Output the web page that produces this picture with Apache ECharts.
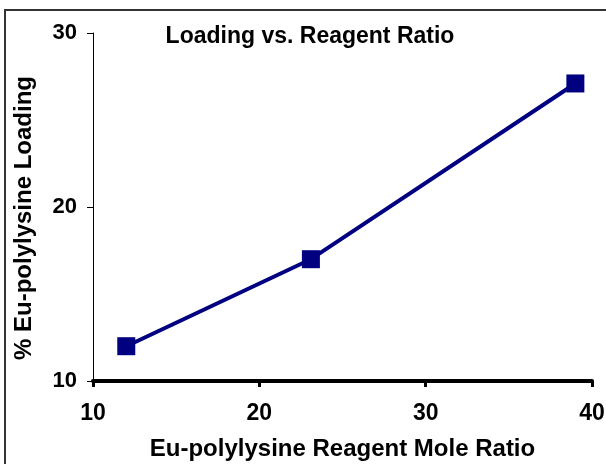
<!DOCTYPE html>
<html>
<head>
<meta charset="utf-8">
<script src="https://cdn.jsdelivr.net/npm/echarts@6/dist/echarts.min.js"></script>
<style>html,body{margin:0;padding:0;background:#fff;}#c{width:606px;height:464px;}</style>
</head>
<body>
<div id="c"></div>
<script>
const titleText = 'Loading vs. Reagent Ratio';
const xName = 'Eu-polylysine Reagent Mole Ratio';
const yName = '% Eu-polylysine Loading';
const moleRatio = [12, 23.1, 39];
const loading = [12, 17, 27.1];
const xTicks = [10, 20, 30, 40];
const yTicks = [10, 20, 30];

const FONT = 'Liberation Sans, Arial, sans-serif';
const chart = echarts.init(document.getElementById('c'));
chart.setOption({
  animation: false,
  backgroundColor: '#fff',
  grid: { left: 93, right: 14, top: 33, bottom: 83, containLabel: false, outerBoundsMode: 'none' },
  graphic: [
    { type: 'rect', shape: { x: 5, y: 10, width: 800, height: 800 }, style: { fill: 'none', stroke: '#333', lineWidth: 2 }, z: -1 },
    { type: 'text', x: 310, y: 37, style: { text: titleText, font: 'bold 23px ' + FONT, fill: '#000', textAlign: 'center', textVerticalAlign: 'middle' } },
    { type: 'text', x: 24, y: 218, rotation: Math.PI / 2, style: { text: yName, font: 'bold 24px ' + FONT, fill: '#000', textAlign: 'center', textVerticalAlign: 'middle' } }
  ],
  xAxis: {
    type: 'value', min: xTicks[0], max: xTicks[xTicks.length - 1], interval: 10,
    name: xName, nameLocation: 'middle', nameGap: 56,
    nameTextStyle: { fontFamily: FONT, fontWeight: 'bold', fontSize: 24, color: '#000' },
    axisLine: { lineStyle: { color: '#000', width: 4 } },
    axisTick: { length: 6, lineStyle: { color: '#000', width: 3 } },
    axisLabel: { fontFamily: FONT, fontWeight: 'bold', fontSize: 23, color: '#000', margin: 21 },
    splitLine: { show: false }
  },
  yAxis: {
    type: 'value', min: yTicks[0], max: yTicks[yTicks.length - 1], interval: 10,
    axisLine: { show: true, lineStyle: { color: '#000', width: 1 } },
    axisTick: { show: true, length: 6, lineStyle: { color: '#000', width: 1 } },
    axisLabel: { fontFamily: FONT, fontWeight: 'bold', fontSize: 22, color: '#000', margin: 16 },
    splitLine: { show: false }
  },
  series: [{
    type: 'line',
    data: moleRatio.map((x, i) => [x, loading[i]]),
    symbol: 'rect', symbolSize: 18,
    itemStyle: { color: '#000080' },
    lineStyle: { color: '#000080', width: 4 }
  }]
});
</script>
</body>
</html>
